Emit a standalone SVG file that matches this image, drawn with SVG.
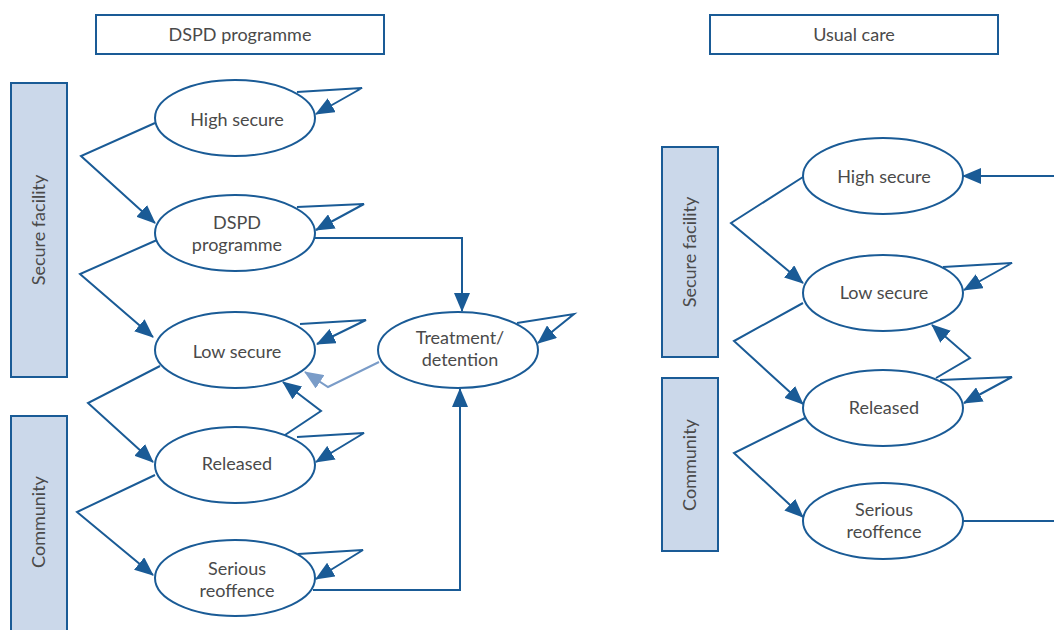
<svg xmlns="http://www.w3.org/2000/svg" width="1054" height="630" viewBox="0 0 1054 630">
<style>
.box{fill:#fff;stroke:#1a5b96;stroke-width:2}
.bar{fill:#cbd8ea;stroke:#1a5b96;stroke-width:2}
.node{fill:#fff;stroke:#1a5b96;stroke-width:2}
.t{font-family:Lato,"Open Sans",sans-serif;font-weight:400;font-size:18px;fill:#4a4a4a;text-anchor:middle}
.c{fill:none;stroke:#1a5b96;stroke-width:2;marker-end:url(#ah)}
.cn{fill:none;stroke:#1a5b96;stroke-width:2}
.cl{fill:none;stroke:#7a9cc8;stroke-width:2;marker-end:url(#ahl)}
</style>
<defs>
<marker id="ah" markerUnits="userSpaceOnUse" markerWidth="19" markerHeight="16" refX="18" refY="8" orient="auto" viewBox="0 0 19 16">
<path d="M0,0 L19,8 L0,16 z" fill="#1a5b96"/>
</marker>
<marker id="ahl" markerUnits="userSpaceOnUse" markerWidth="19" markerHeight="16" refX="18" refY="8" orient="auto" viewBox="0 0 19 16">
<path d="M0,0 L19,8 L0,16 z" fill="#7a9cc8"/>
</marker>
</defs>

<g id="title-dspd"><rect class="box" x="96" y="15" width="288" height="39"/><text class="t" x="240" y="41">DSPD programme</text></g>
<g id="title-usual"><rect class="box" x="710" y="15" width="288" height="39"/><text class="t" x="854" y="41">Usual care</text></g>

<g id="bar-secure-left"><rect class="bar" x="11" y="83" width="56" height="294"/><text class="t" transform="translate(45,230) rotate(-90)">Secure facility</text></g>
<g id="bar-community-left"><rect class="bar" x="11" y="416" width="56" height="230"/><text class="t" transform="translate(45,522) rotate(-90)">Community</text></g>
<g id="bar-secure-right"><rect class="bar" x="662" y="147" width="56" height="210"/><text class="t" transform="translate(696,252) rotate(-90)">Secure facility</text></g>
<g id="bar-community-right"><rect class="bar" x="662" y="378" width="56" height="173"/><text class="t" transform="translate(696,465) rotate(-90)">Community</text></g>

<g id="connectors">
<polyline class="c" points="155,123 81,156 155,223"/>
<polyline class="c" points="157,240 80,274 153,337"/>
<polyline class="c" points="160,366 88,403 153,462"/>
<polyline class="c" points="155,475 77,512 153,575"/>
<polyline class="c" points="297,92 362,88 316,114"/>
<polyline class="c" points="297,207 364,204 316,230"/>
<polyline class="c" points="300,324 366,320 317,344"/>
<polyline class="c" points="517,323 574,314 538,343"/>
<polyline class="c" points="297,437 364,433 316,462"/>
<polyline class="c" points="298,554 363,550 316,579"/>
<polyline class="c" points="285,435 321,411 283,382"/>
<polyline class="cl" points="379,362 328,387 305,372"/>
<polyline class="c" points="315,238 462,238 462,311"/>
<polyline class="c" points="313,590 460,590 460,389"/>
<polyline class="c" points="1054,176 963,176"/>
<polyline class="c" points="803,177 731,223 803,283"/>
<polyline class="c" points="803,303 734,341 803,404"/>
<polyline class="c" points="805,418 734,453 803,517"/>
<polyline class="c" points="943,267 1012,263 964,290"/>
<polyline class="c" points="940,380 1012,377 964,403"/>
<polyline class="c" points="936,378 970,358 932,325"/>
<polyline class="cn" points="963,521 1054,521"/>
</g>

<g id="n-high-l"><ellipse class="node" cx="235" cy="118" rx="80" ry="38"/><text class="t" x="237" y="126">High secure</text></g>
<g id="n-dspd-l"><ellipse class="node" cx="235" cy="233" rx="80" ry="38"/><text class="t" x="237" y="229">DSPD</text><text class="t" x="237" y="251">programme</text></g>
<g id="n-low-l"><ellipse class="node" cx="235" cy="350" rx="80" ry="38"/><text class="t" x="237" y="358">Low secure</text></g>
<g id="n-treat"><ellipse class="node" cx="458" cy="350" rx="80" ry="38"/><text class="t" x="460" y="344">Treatment/</text><text class="t" x="460" y="366">detention</text></g>
<g id="n-rel-l"><ellipse class="node" cx="235" cy="465" rx="80" ry="38"/><text class="t" x="237" y="470">Released</text></g>
<g id="n-ser-l"><ellipse class="node" cx="235" cy="578" rx="80" ry="38"/><text class="t" x="237" y="575">Serious</text><text class="t" x="237" y="597">reoffence</text></g>

<g id="n-high-r"><ellipse class="node" cx="883" cy="176" rx="80" ry="38"/><text class="t" x="884" y="183">High secure</text></g>
<g id="n-low-r"><ellipse class="node" cx="883" cy="293" rx="80" ry="38"/><text class="t" x="884" y="299">Low secure</text></g>
<g id="n-rel-r"><ellipse class="node" cx="883" cy="408" rx="80" ry="38"/><text class="t" x="884" y="414">Released</text></g>
<g id="n-ser-r"><ellipse class="node" cx="883" cy="521" rx="80" ry="38"/><text class="t" x="884" y="516">Serious</text><text class="t" x="884" y="538">reoffence</text></g>
</svg>
